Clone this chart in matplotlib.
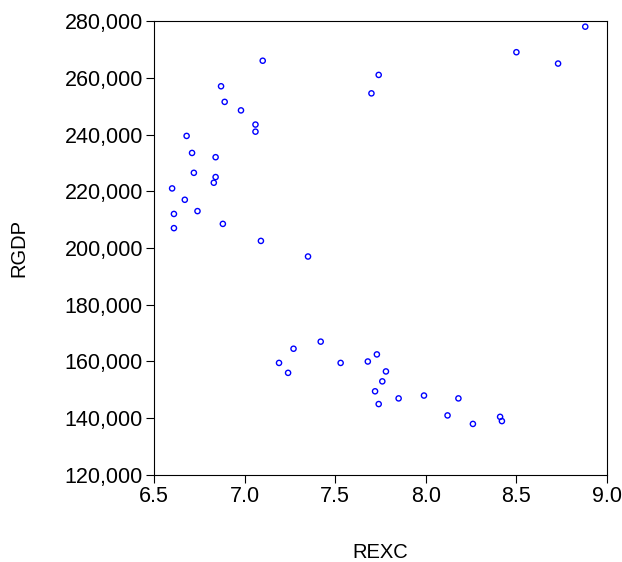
import matplotlib
matplotlib.use("Agg")
import matplotlib.pyplot as plt
from matplotlib.ticker import FuncFormatter

rexc = [8.88,8.50,8.73,7.10,7.74,7.70,6.87,6.89,6.98,7.06,7.06,6.68,6.71,6.84,6.72,6.84,6.83,6.60,6.67,6.74,6.61,6.88,6.61,7.09,7.35,
        7.42,7.27,7.73,7.19,7.53,7.68,7.78,7.24,7.76,7.72,7.85,7.99,8.18,7.74,8.12,8.41,8.42,8.26]
rgdp = [278,269,265,266,261,254.5,257,251.5,248.5,243.5,241,239.5,233.5,232,226.5,225,223,221,217,213,212,208.5,207,202.5,197,
        167,164.5,162.5,159.5,159.5,160,156.5,156,153,149.5,147,148,147,145,141,140.5,139,138]
rgdp = [v*1000 for v in rgdp]

plt.rcParams['font.family'] = ['Liberation Sans', 'DejaVu Sans']
fig = plt.figure(figsize=(6.22,5.62), dpi=100)
ax = fig.add_axes([154/622, 1-475/562, (607-154)/622, (475-21)/562])
ax.scatter(rexc, rgdp, s=14, facecolors='none', edgecolors='#0000ff', linewidths=1)
ax.set_xlim(6.5, 9.0); ax.set_ylim(120000, 280000)
ax.set_xticks([6.5,7.0,7.5,8.0,8.5,9.0])
ax.set_yticks(range(120000, 280001, 20000))
ax.yaxis.set_major_formatter(FuncFormatter(lambda v,p: f"{int(v):,}"))
ax.xaxis.set_major_formatter(FuncFormatter(lambda v,p: f"{v:.1f}"))
ax.tick_params(labelsize=15.5, direction='out', length=6, pad=2)
ax.set_xlabel("REXC", fontsize=14.5, labelpad=26)
ax.set_ylabel("RGDP", fontsize=14.5, labelpad=26)
fig.savefig("out.png", dpi=100)
